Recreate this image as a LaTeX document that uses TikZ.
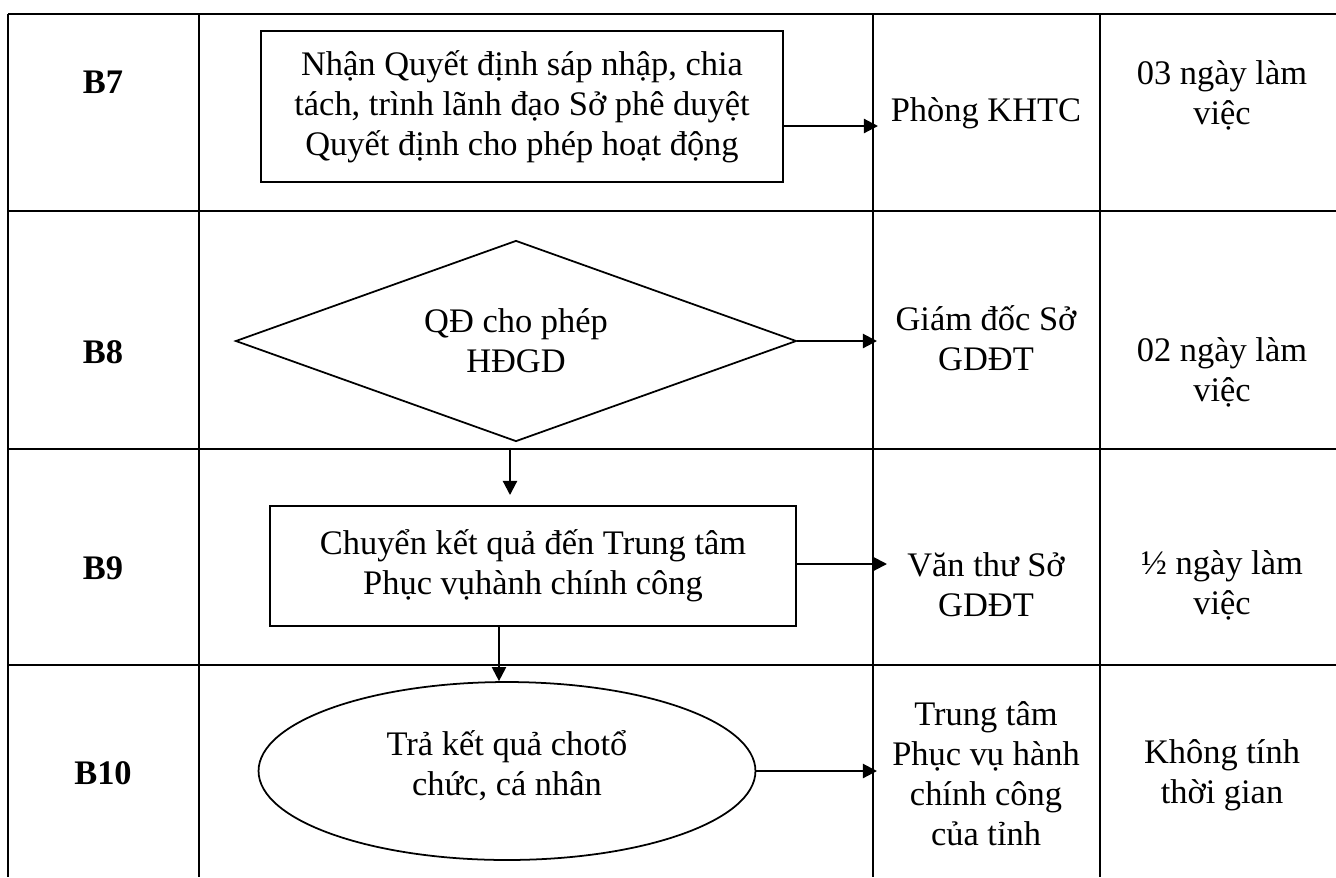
\documentclass[tikz,border=0pt]{standalone}
\usepackage{fontspec}
\setmainfont{Liberation Serif}
\usetikzlibrary{arrows.meta,shapes.geometric}

\begin{document}
\begin{tikzpicture}[x=0.02cm,y=-0.02cm,
  every node/.style={font=\fontsize{19.6}{22.8}\selectfont,align=center},
  grid/.style={line width=1.1pt},
  stepbox/.style={draw,line width=1pt,inner sep=2pt},
  arr/.style={line width=1.2pt,-{Triangle[length=8pt,width=8pt]}},
  steplabel/.style={font=\fontsize{19.6}{22.8}\selectfont\bfseries}]
  \useasboundingbox (0,0) rectangle (1336,877);
  \foreach \y in {14,211,449,665} \draw[grid] (8,\y) -- (1336,\y);
  \foreach \x in {8,199,873,1100} \draw[grid] (\x,14) -- (\x,877);

  \node[steplabel] (s7) at (103,82) {B7};
  \node[steplabel] (s8) at (103,352) {B8};
  \node[steplabel] (s9) at (103,568) {B9};
  \node[steplabel] (s10) at (103,773) {B10};

  \node[stepbox,line width=1.5pt,minimum width=10.44cm,minimum height=3.02cm] (b7box) at (522,106.5)
    {Nhận Quyết định sáp nhập, chia\\tách, trình lãnh đạo Sở phê duyệt\\Quyết định cho phép hoạt động};
  \node[stepbox,diamond,aspect=2.79,minimum width=11.22cm,minimum height=4.02cm,inner sep=0pt] (b8dia) at (516,341)
    {QĐ cho phép\\HĐGD};
  \node[stepbox,minimum width=10.52cm,minimum height=2.4cm] (b9box) at (533,566)
    {Chuyển kết quả đến Trung tâm\\Phục vụhành chính công};
  \node[stepbox,ellipse,minimum width=9.94cm,minimum height=3.56cm,inner sep=0pt] (b10ell) at (507,771)
    {Trả kết quả chotổ\\chức, cá nhân\\[-14pt]};

  \node (who7) at (986,113) {Phòng KHTC};
  \node (time7) at (1222,95) {03 ngày làm\\việc};
  \node (who8) at (986,338) {Giám đốc Sở\\GDĐT};
  \node (time8) at (1222,372) {02 ngày làm\\việc};
  \node (who9) at (986,585) {Văn thư Sở\\GDĐT};
  \node (time9) at (1222,585) {½ ngày làm\\việc};
  \node (who10) at (986,774) {Trung tâm\\Phục vụ hành\\chính công\\của tỉnh};
  \node (time10) at (1222,775) {Không tính\\thời gian};

  \coordinate (a7) at (878,126);
  \coordinate (a8) at (877,341);
  \coordinate (a9) at (887,564);
  \coordinate (a10) at (877,771);
  \coordinate (d8) at (510,495);
  \coordinate (d9) at (499,682);
  \draw[arr] (b7box.east |- a7) -- (a7);
  \draw[arr] (b8dia.east) -- (a8);
  \draw[arr] (b9box.east |- a9) -- (a9);
  \draw[arr] (b10ell.east) -- (a10);
  \draw[arr] ([yshift=-3pt]b8dia.south -| d8) -- (d8);
  \draw[arr] (b9box.south -| d9) -- (b10ell.north -| d9);
\end{tikzpicture}
\end{document}
